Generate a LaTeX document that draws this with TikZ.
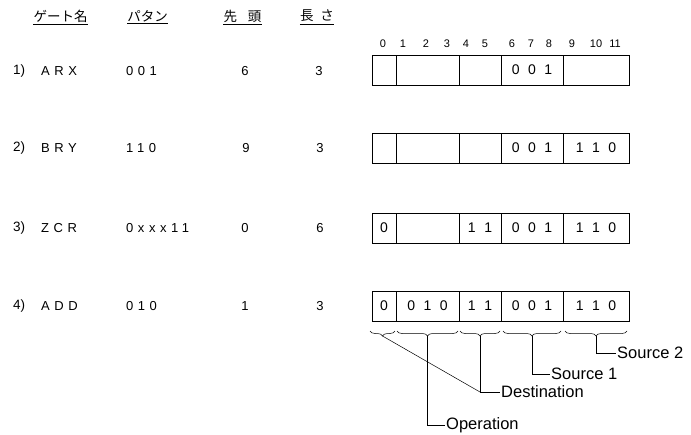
\documentclass[tikz,border=0pt]{standalone}
\usepackage{fontspec}
\setmainfont{Liberation Sans}
\newfontfamily\jpfont{Noto Sans CJK JP}
\newfontfamily\spfont[LetterSpace=35]{Liberation Sans}
\usetikzlibrary{decorations.pathreplacing}
\newcommand\dgap{\hspace{8.5pt}}
\newcommand\fieldrow[7]{%
  \node[seg,minimum width=24pt] (#1a) at (384,#2) {#3};
  \node[seg,minimum width=63pt] (#1b) at (427.5,#2) {#4};
  \node[seg,minimum width=42pt] (#1c) at (480,#2) {#5};
  \node[seg,minimum width=62pt] (#1d) at (532,#2) {#6};
  \node[seg,minimum width=66pt] (#1e) at (596,#2) {#7};}
\begin{document}
\begin{tikzpicture}[x=1pt,y=-1pt,
  seg/.style={draw, line width=0.9pt, minimum height=30pt, inner sep=0pt, outer sep=0pt, font=\fontsize{14}{14}\selectfont},
  hdr/.style={font=\jpfont\fontsize{13.5}{14}\selectfont, inner sep=0pt},
  col/.style={font=\spfont\fontsize{13}{13}\selectfont, inner sep=0pt, anchor=west},
  num/.style={font=\fontsize{13.5}{13}\selectfont, inner sep=0pt, anchor=west},
  val/.style={font=\fontsize{13}{13}\selectfont, inner sep=0pt},
  bitno/.style={font=\fontsize{11}{11}\selectfont, inner sep=0pt},
  lbl/.style={font=\fontsize{16.5}{17}\selectfont, inner sep=1pt, anchor=west},
  conn/.style={line width=0.5pt},
  uline/.style={line width=1pt},
  brc/.style={decorate, decoration={brace, mirror, amplitude=5pt}, line width=0.5pt}
]
\useasboundingbox (0,0) rectangle (691,434);

% headers
\node[hdr] (hg) at (60.5,16) {ゲート名};
\node[hdr] (hp) at (147.5,16) {パタン};
\node[hdr] (hs) at (242.5,16) {先\hspace{11pt}頭};
\node[hdr] (hl) at (317,16) {長\hspace{7pt}さ};
\foreach \n in {hg,hp,hs,hl}{
  \draw[uline] ([yshift=-2pt]\n.south west) -- ([yshift=-2pt]\n.south east);
}

% bit numbers
\foreach \b/\x in {0/383,1/403,2/426,3/447,4/466,5/485,6/512,7/531,8/549,9/572,10/596,11/615}{
  \node[bitno] (b\b) at (\x,44) {\b};
}

% rows of the table
\node[num] (n1) at (13,71) {1)};
\node[col] (g1) at (41,71) {ARX};
\node[col] (p1) at (126,71) {001};
\node[val] (s1) at (245,71) {6};
\node[val] (l1) at (319,71) {3};

\node[num] (n2) at (13,148) {2)};
\node[col] (g2) at (41,148) {BRY};
\node[col] (p2) at (126,148) {110};
\node[val] (s2) at (246,148) {9};
\node[val] (l2) at (320,148) {3};

\node[num] (n3) at (13,228) {3)};
\node[col] (g3) at (41,228) {ZCR};
\node[col] (p3) at (126,228) {0xxx11};
\node[val] (s3) at (245,228) {0};
\node[val] (l3) at (320,228) {6};

\node[num] (n4) at (13,306) {4)};
\node[col] (g4) at (41,306) {ADD};
\node[col] (p4) at (126,306) {010};
\node[val] (s4) at (245,306) {1};
\node[val] (l4) at (320,306) {3};

% field boxes
\fieldrow{ra}{70}{}{}{}{0\dgap0\dgap1}{}
\fieldrow{rb}{148}{}{}{}{0\dgap0\dgap1}{1\dgap1\dgap0}
\fieldrow{rc}{228}{0}{}{1\dgap1}{0\dgap0\dgap1}{1\dgap1\dgap0}
\fieldrow{rd}{306}{0}{0\dgap1\dgap0}{1\dgap1}{0\dgap0\dgap1}{1\dgap1\dgap0}

% braces
\draw[brc] (370,331) -- (395,331);
\draw[brc] (397,331) -- (458,331);
\draw[brc] (460,331) -- (500,331);
\draw[brc] (503,331) -- (561,331);
\draw[brc] (565,331) -- (627,331);
\coordinate (t0) at (382.5,336);
\coordinate (t1) at (427.5,336);
\coordinate (t2) at (480,336);
\coordinate (t3) at (532,336);
\coordinate (t4) at (596,336);

% labels
\node[lbl] (src2) at (616,353) {Source 2};
\node[lbl] (src1) at (550,374) {Source 1};
\node[lbl] (dst) at (500,392) {Destination};
\node[lbl] (op) at (445,425) {Operation};
\coordinate (dc) at (t2 |- dst.west);

\draw[conn] (t4) |- (src2.west);
\draw[conn] (t3) |- (src1.west);
\draw[conn] (t2) -- (dc) -- (dst.west);
\draw[conn] (t0) -- (dc);
\draw[conn] (t1) |- (op.west);
\end{tikzpicture}
\end{document}
